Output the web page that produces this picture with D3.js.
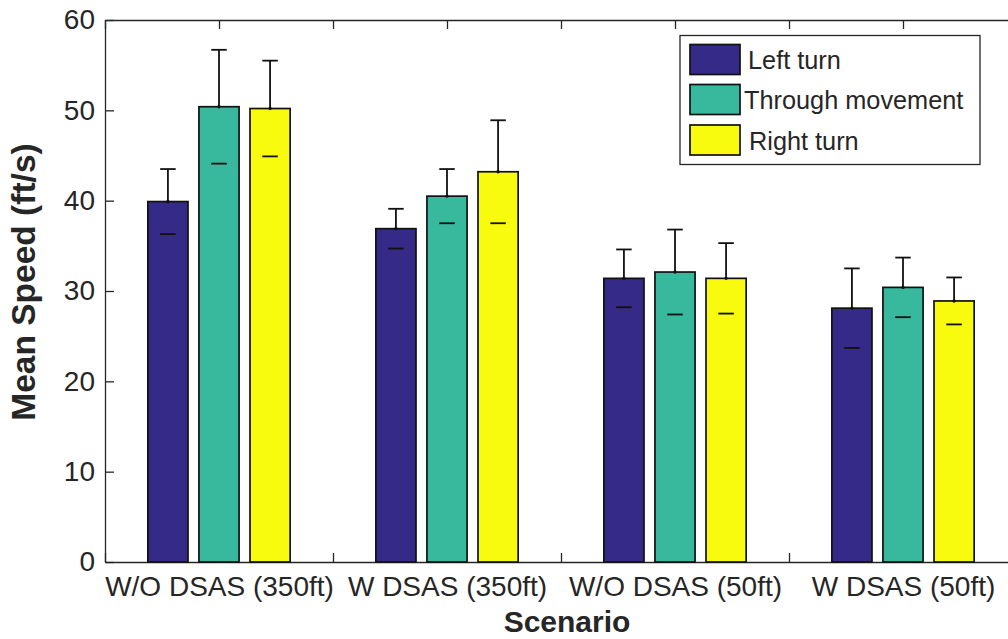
<!DOCTYPE html>
<html>
<head>
<meta charset="utf-8">
<script src="https://cdn.jsdelivr.net/npm/d3@7"></script>
<style>
  html, body { margin: 0; padding: 0; background: #fff; }
  svg { display: block; }
  text { font-family: "Liberation Sans", Arial, Helvetica, sans-serif; fill: #262626; }
</style>
</head>
<body>
<svg id="chart" width="1008" height="639"></svg>
<script>
// Scenarios along the x axis
const scenarios = ["W/O DSAS (350ft)", "W DSAS (350ft)", "W/O DSAS (50ft)", "W DSAS (50ft)"];
// Movement types (series)
const movements = ["Left turn", "Through movement", "Right turn"];
const colors = ["#352a87", "#38b99e", "#f9fb0e"];
// Mean speed (ft/s) per scenario, one array per movement
const leftMean    = [39.9, 36.9, 31.4, 28.1];
const throughMean = [50.4, 40.5, 32.1, 30.4];
const rightMean   = [50.2, 43.2, 31.4, 28.9];
// Standard deviation (ft/s)
const leftSD    = [3.6, 2.2, 3.2, 4.4];
const throughSD = [6.3, 3.0, 4.7, 3.3];
const rightSD   = [5.3, 5.7, 3.9, 2.6];
// Y tick values
const yTicks = [0, 10, 20, 30, 40, 50, 60];

const means = [leftMean, throughMean, rightMean];
const sds = [leftSD, throughSD, rightSD];

const svg = d3.select("#chart");
const ink = "#262626";

// Scenario positions are 1..4; the axis box spans 0.5 .. 4.5
const x = d3.scaleLinear().domain([0.5, 4.5]).range([105, 1017]);
const y = d3.scaleLinear().domain([0, 60]).range([562, 20]);

const barW = 0.176;     // bar width in scenario units
const barStep = 0.224;  // spacing between bars inside a group
const capHalf = 0.034;  // half width of the error-bar caps

const rows = [];
means.forEach((arr, s) => arr.forEach((v, i) => {
  rows.push({ s, i, mean: v, sd: sds[s][i], cx: i + 1 + (s - 1) * barStep });
}));

// Axis box (drawn first so the middle-bar ticks sit behind the bars)
const xTickVals = d3.range(0.5, 4.51, 0.5);
const tickLen = 9;
const fontTick = 28;

const axisG = svg.append("g");
const xBottom = d3.axisBottom(x).tickValues(xTickVals).tickSizeInner(-tickLen).tickSizeOuter(0)
  .tickFormat(d => Number.isInteger(d) ? scenarios[d - 1] : "").tickPadding(14);
const gB = axisG.append("g").attr("transform", `translate(0,${y(0)})`).call(xBottom);
const xTop = d3.axisTop(x).tickValues(xTickVals).tickSizeInner(-tickLen).tickSizeOuter(0).tickFormat("");
const gT = axisG.append("g").attr("transform", `translate(0,${y(60)})`).call(xTop);
const yLeft = d3.axisLeft(y).tickValues(yTicks).tickSizeInner(-tickLen).tickSizeOuter(0).tickPadding(10);
const gL = axisG.append("g").attr("transform", `translate(${x(0.5)},0)`).call(yLeft);
const yRight = d3.axisRight(y).tickValues(yTicks).tickSizeInner(-tickLen).tickSizeOuter(0).tickFormat("");
const gR = axisG.append("g").attr("transform", `translate(${x(4.5)},0)`).call(yRight);

[gB, gT, gL, gR].forEach(g => {
  g.select(".domain").attr("stroke", ink).attr("stroke-width", 1.3);
  g.selectAll(".tick line").attr("stroke", ink).attr("stroke-width", 1.3);
  g.selectAll(".tick text").attr("fill", ink).style("font-size", fontTick + "px")
    .style("font-family", '"Liberation Sans", Arial, sans-serif');
});

// Bars
svg.append("g").selectAll("rect").data(rows).join("rect")
  .attr("x", d => x(d.cx - barW / 2))
  .attr("width", d => x(d.cx + barW / 2) - x(d.cx - barW / 2))
  .attr("y", d => y(d.mean))
  .attr("height", d => y(0) - y(d.mean))
  .attr("fill", d => colors[d.s])
  .attr("stroke", "#111")
  .attr("stroke-width", 1.7);

// Error bars: upper whisker with cap, lower cap inside the bar
const eb = svg.append("g").attr("stroke", "#111").attr("stroke-width", 1.8);
eb.selectAll("line.whisk").data(rows).join("line").attr("class", "whisk")
  .attr("x1", d => x(d.cx)).attr("x2", d => x(d.cx))
  .attr("y1", d => y(d.mean)).attr("y2", d => y(d.mean + d.sd));
eb.selectAll("line.capU").data(rows).join("line").attr("class", "capU")
  .attr("x1", d => x(d.cx - capHalf)).attr("x2", d => x(d.cx + capHalf))
  .attr("y1", d => y(d.mean + d.sd)).attr("y2", d => y(d.mean + d.sd));
eb.selectAll("line.capL").data(rows).join("line").attr("class", "capL")
  .attr("x1", d => x(d.cx - capHalf)).attr("x2", d => x(d.cx + capHalf))
  .attr("y1", d => y(d.mean - d.sd)).attr("y2", d => y(d.mean - d.sd));
eb.selectAll("circle").data(rows).join("circle")
  .attr("cx", d => x(d.cx)).attr("cy", d => y(d.mean)).attr("r", 1.7)
  .attr("fill", "#111").attr("stroke", "none");

// Axis titles
svg.append("text").attr("x", 567).attr("y", 632).attr("text-anchor", "middle")
  .style("font-size", "30px").style("font-weight", "bold").text("Scenario");
svg.append("text").attr("transform", "translate(35,282) rotate(-90)").attr("text-anchor", "middle")
  .style("font-size", "33.5px").style("font-weight", "bold").text("Mean Speed (ft/s)");

// Legend
const lg = svg.append("g");
lg.append("rect").attr("x", 680).attr("y", 35.5).attr("width", 300).attr("height", 129)
  .attr("fill", "#fff").attr("stroke", ink).attr("stroke-width", 1.3);
const legendY = [44.5, 84.5, 125];
const legendTextX = [748, 744, 749];
movements.forEach((m, i) => {
  lg.append("rect").attr("x", 690).attr("y", legendY[i]).attr("width", 50).attr("height", 30)
    .attr("fill", colors[i]).attr("stroke", "#111").attr("stroke-width", 1.7);
  lg.append("text").attr("x", legendTextX[i]).attr("y", legendY[i] + 24.5)
    .style("font-size", "25.3px").text(m);
});
</script>
</body>
</html>
